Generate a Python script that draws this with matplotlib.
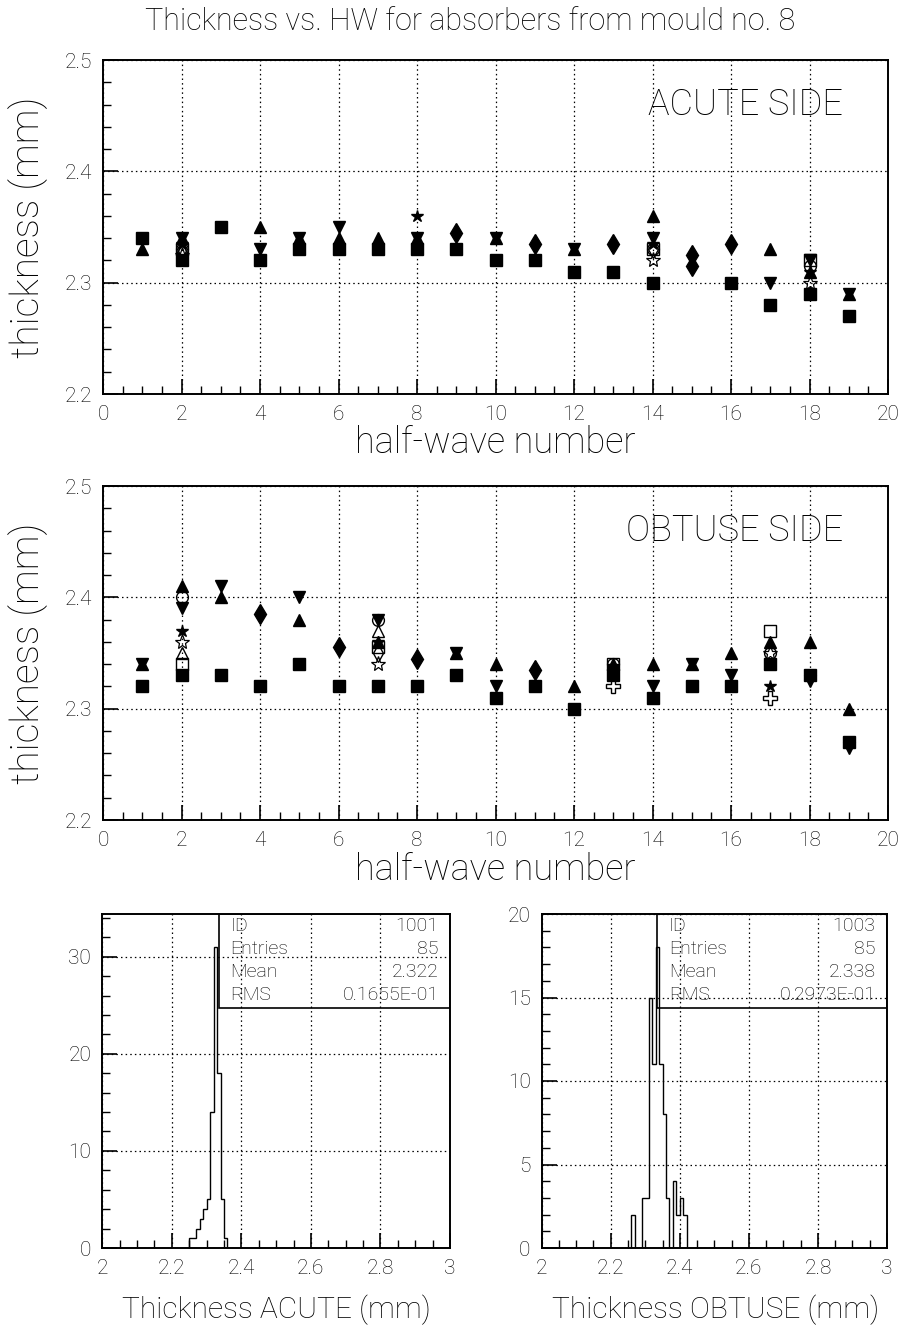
import numpy as np
import matplotlib
matplotlib.use("Agg")
import matplotlib.pyplot as plt
from matplotlib.ticker import MultipleLocator
from matplotlib.patches import Rectangle

plt.rcParams['font.family'] = ['Roboto', 'DejaVu Sans']
plt.rcParams['font.weight'] = 'light'
plt.rcParams['axes.labelweight'] = 'light'

# ---------------- data ----------------
title = "Thickness vs. HW for absorbers from mould no. 8"

# ACUTE side: (half-wave number, thickness) per absorber marker
acute_sq = [(1, 2.34), (2, 2.32), (3, 2.35), (4, 2.32), (5, 2.33), (6, 2.33), (7, 2.33),
            (8, 2.33), (9, 2.33), (10, 2.32), (11, 2.32), (12, 2.31), (13, 2.31), (14, 2.30),
            (16, 2.30), (17, 2.28), (18, 2.29), (19, 2.27)]
acute_up = [(1, 2.33), (2, 2.34), (4, 2.35), (5, 2.34), (6, 2.34), (7, 2.34), (8, 2.34),
            (10, 2.34), (12, 2.33), (14, 2.36), (17, 2.33), (18, 2.31), (19, 2.29)]
acute_dn = [(2, 2.34), (4, 2.33), (5, 2.34), (6, 2.35), (8, 2.34), (10, 2.34), (12, 2.33),
            (14, 2.34), (17, 2.30), (18, 2.32), (19, 2.29)]
acute_dia = [(9, 2.345), (11, 2.335), (13, 2.335), (15, 2.325), (15, 2.315), (16, 2.335)]
acute_star = [(2, 2.335), (8, 2.36), (14, 2.335), (18, 2.31)]
acute_osq = [(2, 2.33), (14, 2.33), (18, 2.32)]
acute_ocirc = [(2, 2.33), (14, 2.33), (18, 2.315)]
acute_otri = [(2, 2.33)]
acute_odia = [(2, 2.33), (14, 2.33)]
acute_ostar = [(2, 2.325), (14, 2.32), (18, 2.30)]
acute_ocross = []

# OBTUSE side
obtuse_sq = [(1, 2.32), (2, 2.33), (3, 2.33), (4, 2.32), (5, 2.34), (6, 2.32), (7, 2.32),
             (8, 2.32), (9, 2.33), (10, 2.31), (11, 2.32), (12, 2.30), (13, 2.33), (14, 2.31),
             (15, 2.32), (16, 2.32), (17, 2.34), (18, 2.33), (19, 2.27)]
obtuse_up = [(1, 2.34), (2, 2.41), (3, 2.40), (5, 2.38), (7, 2.36), (9, 2.35), (10, 2.34),
             (12, 2.32), (13, 2.34), (14, 2.34), (15, 2.34), (16, 2.35), (17, 2.36), (18, 2.36),
             (19, 2.30)]
obtuse_dn = [(1, 2.34), (2, 2.39), (3, 2.41), (5, 2.40), (7, 2.38), (9, 2.35), (10, 2.32),
             (13, 2.335), (14, 2.32), (15, 2.34), (16, 2.33), (18, 2.325), (19, 2.265)]
obtuse_dia = [(4, 2.385), (6, 2.355), (8, 2.345), (11, 2.335)]
obtuse_star = [(2, 2.37), (7, 2.36), (17, 2.32)]
obtuse_osq = [(2, 2.34), (7, 2.355), (13, 2.34), (17, 2.37)]
obtuse_ocirc = [(2, 2.40), (7, 2.38), (13, 2.34), (17, 2.35)]
obtuse_otri = [(2, 2.35), (7, 2.37)]
obtuse_odia = [(7, 2.35)]
obtuse_ostar = [(2, 2.36), (7, 2.34), (17, 2.35)]
obtuse_ocross = [(13, 2.32), (17, 2.31)]

# histograms (bin counts, bins of 0.01 mm)
acute_hist_start = 2.25
acute_hist_counts = [1, 1, 2, 3, 4, 5, 14, 31, 18, 5, 1]
obtuse_hist_start = 2.26
obtuse_hist_counts = [2, 0, 0, 3, 3, 15, 11, 18, 11, 8, 3, 0, 4, 2, 3, 2]
hist_bin_width = 0.01

acute_stats = [("ID", "1001"), ("Entries", "85"), ("Mean", "2.322"), ("RMS", "0.1655E-01")]
obtuse_stats = [("ID", "1003"), ("Entries", "85"), ("Mean", "2.338"), ("RMS", "0.2973E-01")]

# ---------------- styles ----------------
styles = {
    'sq':     dict(marker='s', ms=8.2, mfc='black', mec='black'),
    'up':     dict(marker='^', ms=8.4, mfc='black', mec='black'),
    'dn':     dict(marker='v', ms=8.4, mfc='black', mec='black'),
    'dia':    dict(marker='d', ms=10.5, mfc='black', mec='black'),
    'star':   dict(marker='*', ms=9, mfc='black', mec='black'),
    'osq':    dict(marker='s', ms=8.2, mfc='none', mec='black', mew=1.0),
    'ocirc':  dict(marker='o', ms=8.5, mfc='none', mec='black', mew=1.0),
    'otri':   dict(marker='^', ms=8.4, mfc='none', mec='black', mew=1.0),
    'odia':   dict(marker='d', ms=9, mfc='none', mec='black', mew=1.0),
    'ostar':  dict(marker='*', ms=11, mfc='none', mec='black', mew=0.9),
    'ocross': dict(marker='P', ms=10, mfc='none', mec='black', mew=1.0),
}

acute_series = {'sq': acute_sq, 'up': acute_up, 'dn': acute_dn, 'dia': acute_dia,
                'star': acute_star, 'osq': acute_osq, 'ocirc': acute_ocirc,
                'otri': acute_otri, 'odia': acute_odia, 'ostar': acute_ostar,
                'ocross': acute_ocross}
obtuse_series = {'sq': obtuse_sq, 'up': obtuse_up, 'dn': obtuse_dn, 'dia': obtuse_dia,
                 'star': obtuse_star, 'osq': obtuse_osq, 'ocirc': obtuse_ocirc,
                 'otri': obtuse_otri, 'odia': obtuse_odia, 'ostar': obtuse_ostar,
                 'ocross': obtuse_ocross}

W, H = 905, 1333
fig = plt.figure(figsize=(W / 100, H / 100), dpi=100)


def fx(px):
    return px / W


def fy(py):
    return 1 - py / H


def style_axes(ax):
    for s in ax.spines.values():
        s.set_linewidth(1.4)
        s.set_color('black')
    ax.tick_params(which='both', direction='in', top=False, right=False,
                   labelsize=15, colors='black', pad=8)
    ax.tick_params(which='major', length=11, width=1.2)
    ax.tick_params(which='minor', length=5.5, width=1.0)
    ax.grid(True, which='major', linestyle=(0, (1.2, 2.5)), color='black', linewidth=0.9)
    ax.set_axisbelow(False)


def scatter_panel(top, bottom, series, side_text):
    ax = fig.add_axes([fx(103), fy(bottom), fx(888) - fx(103), fy(top) - fy(bottom)])
    for key, pts in series.items():
        if not pts:
            continue
        xs = [p[0] for p in pts]
        ys = [p[1] for p in pts]
        ax.plot(xs, ys, linestyle='none', zorder=3, **styles[key])
    ax.set_xlim(0, 20)
    ax.set_ylim(2.2, 2.5)
    ax.xaxis.set_major_locator(MultipleLocator(2))
    ax.xaxis.set_minor_locator(MultipleLocator(0.5))
    ax.yaxis.set_major_locator(MultipleLocator(0.1))
    ax.yaxis.set_minor_locator(MultipleLocator(0.02))
    ax.yaxis.set_major_formatter(plt.FuncFormatter(lambda v, p: f"{v:.1f}"))
    style_axes(ax)
    ax.set_xlabel("half-wave number", fontsize=26, labelpad=1)
    ax.set_ylabel("thickness (mm)", fontsize=28, labelpad=12)
    ax.text(0.943, 0.865, side_text, transform=ax.transAxes, ha='right', va='center',
            fontsize=26)
    return ax


ax1 = scatter_panel(60, 394, acute_series, "ACUTE SIDE")
ax2 = scatter_panel(486, 820, obtuse_series, "OBTUSE SIDE")


def hist_panel(left, right, start, counts, ymax, ymaj, ymin_, stats, xlabel, label_x):
    ax = fig.add_axes([fx(left), fy(1248), fx(right) - fx(left), fy(914) - fy(1248)])
    edges = start + hist_bin_width * np.arange(len(counts) + 1)
    ax.stairs(counts, edges, color='black', linewidth=1.0, baseline=0, zorder=3)
    ax.set_xlim(2, 3)
    ax.set_ylim(0, ymax)
    ax.xaxis.set_major_locator(MultipleLocator(0.2))
    ax.xaxis.set_minor_locator(MultipleLocator(0.05))
    ax.yaxis.set_major_locator(MultipleLocator(ymaj))
    ax.yaxis.set_minor_locator(MultipleLocator(ymin_))
    ax.xaxis.set_major_formatter(plt.FuncFormatter(lambda v, p: f"{v:g}"))
    style_axes(ax)
    fig.text(fx(label_x), fy(1310), xlabel, ha='center', va='center', fontsize=21.5)
    # statistics box
    bx0, by0 = 0.335, 0.72
    ax.add_patch(Rectangle((bx0, by0), 1 - bx0, 1 - by0, transform=ax.transAxes,
                           facecolor='none', edgecolor='black', linewidth=1.2, zorder=5))
    for i, (lab, val) in enumerate(stats):
        yy = 0.965 - i * 0.069
        ax.text(bx0 + 0.033, yy, lab, transform=ax.transAxes, ha='left', va='center',
                fontsize=14, zorder=6)
        ax.text(0.967, yy, val, transform=ax.transAxes, ha='right', va='center',
                fontsize=14, zorder=6)
    return ax


ax3 = hist_panel(102.3, 450, acute_hist_start, acute_hist_counts, 34.4, 10, 2,
                 acute_stats, "Thickness ACUTE (mm)", 276)
ax4 = hist_panel(541.7, 887, obtuse_hist_start, obtuse_hist_counts, 20, 5, 1,
                 obtuse_stats, "Thickness OBTUSE (mm)", 716)

fig.text(0.519, fy(22), title, ha='center', va='center', fontsize=22)

fig.savefig("out.png", dpi=100, facecolor='white')
